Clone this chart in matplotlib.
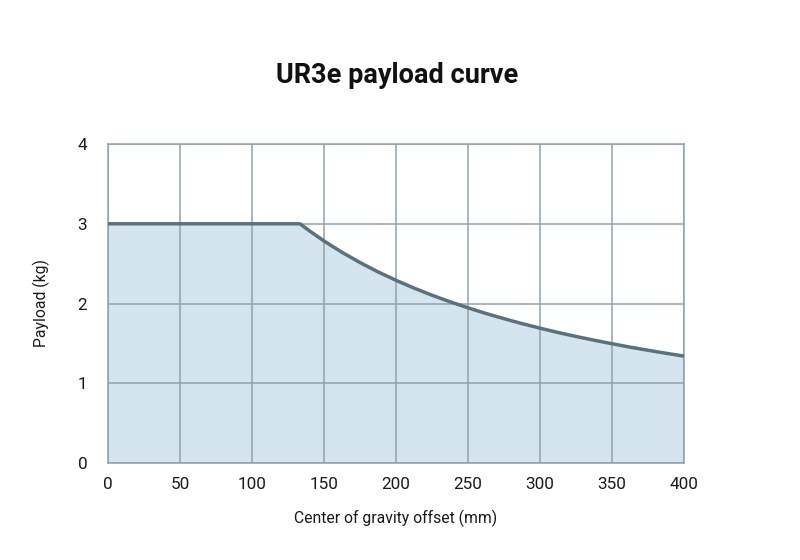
import matplotlib
matplotlib.use("Agg")
import matplotlib.pyplot as plt

offset_mm = [0, 50, 100, 133.3, 140, 150, 162.5, 175, 187.5, 200, 212.5, 225, 237.5, 250,
             262.5, 275, 287.5, 300, 312.5, 325, 337.5, 350, 362.5, 375, 387.5, 400]
payload_kg = [3.0, 3.0, 3.0, 3.0, 2.910, 2.784, 2.642, 2.514, 2.397, 2.291, 2.194, 2.104, 2.022, 1.946,
              1.875, 1.810, 1.748, 1.691, 1.637, 1.587, 1.540, 1.496, 1.453, 1.414, 1.376, 1.340]
x_ticks = [0, 50, 100, 150, 200, 250, 300, 350, 400]
y_ticks = [0, 1, 2, 3, 4]

plt.rcParams['font.family'] = ['Roboto', 'DejaVu Sans']

fig = plt.figure(figsize=(8, 5.6), dpi=100)
ax = fig.add_axes([0.135, 0.1732, 0.72, 0.5696])

grid_c = '#8fa2ad'
ax.fill_between(offset_mm, payload_kg, 0, color='#d4e5f0', zorder=1, linewidth=0)
ax.plot(offset_mm, payload_kg, color='#5b717c', linewidth=2.5, zorder=3,
        solid_capstyle='butt', solid_joinstyle='round')

ax.set_xlim(0, 400)
ax.set_ylim(0, 4)
ax.set_xticks(x_ticks)
ax.set_yticks(y_ticks)
ax.grid(True, color=grid_c, linewidth=1.1, zorder=2)
ax.set_axisbelow(False)
for s in ax.spines.values():
    s.set_color(grid_c)
    s.set_linewidth(1.1)
    s.set_zorder(2)
ax.tick_params(length=0, labelsize=12.3, pad=10, colors='#1a1a1a')
ax.tick_params(axis='y', pad=15)

ax.set_xlabel('Center of gravity offset (mm)', fontsize=11.3, labelpad=13, color='#1a1a1a')
ax.set_ylabel('Payload (kg)', fontsize=11.3, labelpad=20, color='#1a1a1a')

fig.text(0.496, 0.866, 'UR3e payload curve', ha='center', va='center',
         fontsize=19.5, fontweight='bold', color='#111111')

fig.savefig('out.png', dpi=100, facecolor='white')
